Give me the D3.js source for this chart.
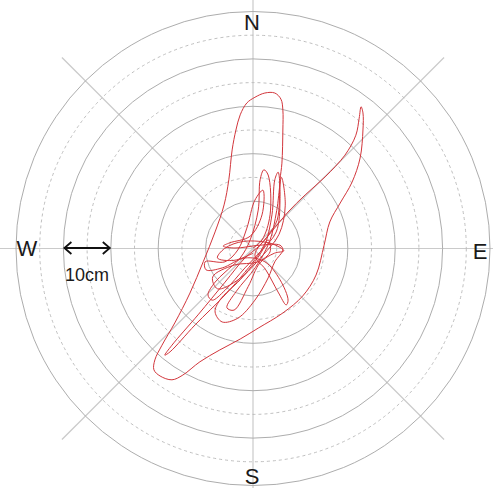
<!DOCTYPE html>
<html><head><meta charset="utf-8">
<script src="https://cdn.jsdelivr.net/npm/d3@7"></script>
<style>body{margin:0;background:#fff}svg{display:block}</style>
</head><body>
<script>
// ring radii (cm)
const solidRings = [10, 20, 30, 40, 50];
const dashedRings = [5, 15, 25, 35, 45];
const spokeAngles = [0, 45, 90, 135, 180, 225, 270, 315];
const dirLabels = ["N", "E", "S", "W"];
const scaleBar = {from: -40, to: -30, label: "10cm"};
// trajectory (cm): x east, y north
const trackX = [0,1.9,3.6,3.2,2.3,1.5,1.1,-0.6,-2.7,-5.9,-8.0,-9.5,-8.6,-5.9,-1.7,1.9,4.9,5.7,5.3,4.6,4.0,2.5,0.4,-2.7,-7.0,-8.0,-6.5,-3.2,0.4,3.2,4.6,6.3,5.7,1.5,-3.8,-6.3,-4.9,-0.6,1.9,2.1,0.4,-1.3,-3.2,-5.9,-10.1,-9.9,-6.5,-1.7,2.5,5.7,7.4,7.0,5.3,2.7,0.4,3.2,5.1,5.7,6.1,6.3,6.3,5.9,4.6,2.5,0.4,-1.3,-2.7,-3.6,-4.4,-5.1,-6.1,-8.0,-10.5,-13.3,-16.5,-19.2,-20.7,-20.9,-19.6,-17.1,-14.8,-11.2,-7.0,-2.7,1.1,6.3,10.5,13.3,15.0,16.2,18.4,20.9,22.6,23.2,23.2,22.8,22.4,21.7,19.4,15.2,11.0,7.4,4.2,1.5,-1.7,-5.9,-11.6,-17.1,-18.6,-17.5,-12.2,-5.9,-1.7,1.1,3.2,3.6,1.1,-4.0,-8.5,-7.5,-3.0,2.0,5.5,6.8,6.0,5.0,3.5,0.5,-3.5,-5.5,-4.0,-1.0,1.5,4.5,6.5,4.0,-2.0,-6.0,-7.5,-4.0,0.0];
const trackY = [0.1,1.8,7.1,15.5,16.6,14.5,8.1,1.8,-2.0,-5.0,-7.1,-9.8,-10.9,-8.8,-4.1,-0.3,3.5,10.2,16.1,14.5,7.1,0.7,-2.8,-6.6,-10.9,-13.4,-15.5,-14.7,-10.9,-6.2,-2.8,-0.3,0.7,0.7,0.1,0.5,1.2,2.6,7.1,12.3,10.2,4.3,-0.3,-2.8,-2.8,-4.5,-4.1,-2.0,-2.8,-6.6,-10.9,-11.9,-9.2,-4.5,-1.4,2.8,6.0,14.5,18.0,25.0,29.2,31.5,32.8,32.8,31.9,30.7,28.2,25.0,20.8,14.5,9.2,3.5,-2.8,-9.4,-15.7,-20.4,-23.5,-25.6,-26.9,-27.7,-26.7,-23.9,-21.4,-19.1,-16.8,-13.6,-10.0,-5.6,0.7,5.6,9.6,14.0,19.1,25.0,28.6,29.9,27.5,23.9,19.7,15.1,11.3,7.7,3.9,0.7,-2.0,-7.1,-14.0,-20.4,-22.5,-21.8,-16.1,-9.8,-5.0,-1.4,1.8,-0.7,-2.8,-3.5,-6.0,-8.5,-6.5,-1.5,3.0,9.0,15.0,8.0,1.5,-4.0,-9.0,-12.5,-13.0,-8.0,-3.0,-1.0,-0.5,1.0,1.5,0.0,-2.0,-2.5,-1.0];

const W = 493, H = 488, cx = 253, cy = 248.5;
const svg = d3.select("body").append("svg").attr("width", W).attr("height", H);
const r = d3.scaleLinear().domain([0, 50]).range([0, 237]);
const xs = d3.scaleLinear().domain([-50, 50]).range([cx - 237, cx + 237]);
const ys = d3.scaleLinear().domain([-50, 50]).range([cy + 237, cy - 237]);

const g = svg.append("g");
g.selectAll("line.spoke").data(spokeAngles).join("line")
  .attr("x1", cx).attr("y1", cy)
  .attr("x2", d => cx + r(57) * Math.sin(d * Math.PI / 180))
  .attr("y2", d => cy - r(57) * Math.cos(d * Math.PI / 180))
  .attr("stroke", "#cacaca").attr("stroke-width", 1.2);
g.selectAll("circle.d").data(dashedRings).join("circle")
  .attr("cx", cx).attr("cy", cy).attr("r", d => r(d))
  .attr("fill", "none").attr("stroke", "#b8b8b8").attr("stroke-width", 0.9)
  .attr("stroke-dasharray", "3,3");
g.selectAll("circle.s").data(solidRings).join("circle")
  .attr("cx", cx).attr("cy", cy).attr("r", d => r(d))
  .attr("fill", "none").attr("stroke", "#adadad").attr("stroke-width", 1);

const pts = trackX.map((x, i) => [x, trackY[i]]);
const line = d3.line().x(d => xs(d[0])).y(d => ys(d[1])).curve(d3.curveCatmullRom.alpha(0.5));
svg.append("path").attr("d", line(pts)).attr("fill", "none")
  .attr("stroke", "#d2363c").attr("stroke-width", 1);

// labels
const labPos = [[252, 30], [480, 259], [252, 484], [27, 256]];
svg.selectAll("text.dir").data(dirLabels).join("text")
  .attr("x", (d, i) => labPos[i][0]).attr("y", (d, i) => labPos[i][1])
  .attr("text-anchor", "middle").attr("font-family", "Liberation Sans, Arial, sans-serif")
  .attr("font-size", 22).attr("fill", "#1a1a1a").text(d => d);

// scale bar
const ay = 248;
const x1 = xs(scaleBar.from), x2 = xs(scaleBar.to);
const sb = svg.append("g").attr("stroke", "#111").attr("stroke-width", 1.8).attr("fill", "none");
sb.append("line").attr("x1", x1 + 1).attr("x2", x2 - 1).attr("y1", ay).attr("y2", ay);
sb.append("path").attr("d", `M${x1 + 8},${ay - 6}L${x1 + 1},${ay}L${x1 + 8},${ay + 6}`);
sb.append("path").attr("d", `M${x2 - 8},${ay - 6}L${x2 - 1},${ay}L${x2 - 8},${ay + 6}`);
svg.append("text").attr("x", (x1 + x2) / 2).attr("y", 281).attr("text-anchor", "middle")
  .attr("font-family", "Liberation Sans, Arial, sans-serif").attr("font-size", 18)
  .attr("fill", "#1a1a1a").text(scaleBar.label);
</script>
</body></html>
